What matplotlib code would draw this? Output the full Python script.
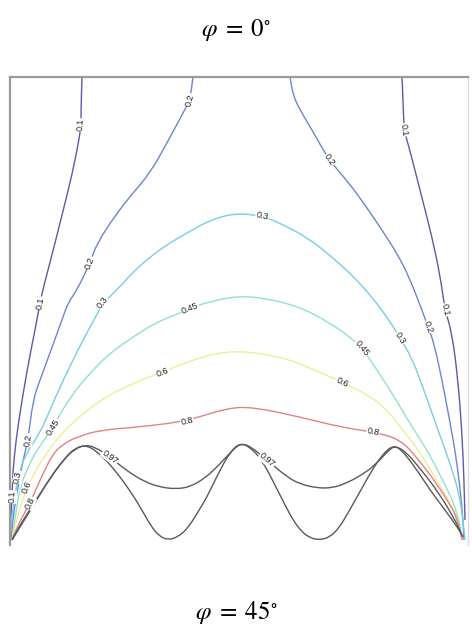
import numpy as np
from matplotlib import pyplot as plt
from matplotlib.path import Path
from matplotlib.patches import PathPatch

# contour traces: (x, y) in picture units, y grows downward
lvl_01_left = [(82, 77), (81, 110), (81, 125), (79, 140), (72, 175), (62, 215), (52, 255),
               (44, 285), (40, 303), (36, 325), (29, 360), (22, 400), (16, 440),
               (13, 470), (12, 497), (11, 515), (10, 540)]
lvl_01_right = [(402, 77), (403, 100), (404, 130), (409, 147), (420, 190), (432, 237),
                (440, 275), (445, 310), (452, 333), (458, 380), (462, 433), (464, 480),
                (465, 520)]
lvl_02_left = [(193, 77), (190, 100), (183, 113), (167, 143), (150, 173), (133, 193),
               (117, 213), (97, 243), (90, 263), (77, 290), (68, 303), (63, 317),
               (50, 353), (40, 380), (33, 400), (28, 440), (22, 465), (18, 487),
               (14, 510), (12, 530), (11, 540)]
lvl_02_right = [(290, 77), (293, 95), (300, 110), (312, 130), (329, 160), (349, 183),
                (365, 205), (382, 230), (398, 255), (409, 277), (422, 310), (428, 327),
                (434, 343), (442, 380), (449, 417), (455, 450), (460, 487), (463, 520),
                (464, 540)]
lvl_03 = [(10, 540), (12, 513), (18, 477), (25, 455), (40, 433), (50, 410), (60, 387),
          (72, 362), (83, 340), (95, 318), (103, 303), (117, 290), (133, 272),
          (150, 257), (168, 244), (187, 233), (210, 220), (236, 213), (262, 216),
          (282, 224), (308, 238), (332, 257), (352, 275), (372, 297), (389, 320),
          (400, 338), (412, 358), (425, 393), (439, 433), (450, 463), (459, 493),
          (463, 520), (465, 540)]
lvl_045 = [(12, 540), (14, 525), (20, 487), (28, 467), (37, 450), (53, 427), (70, 397),
           (90, 373), (110, 353), (133, 337), (155, 323), (180, 313), (190, 308),
           (205, 303), (236, 296), (265, 298), (300, 307), (330, 323), (350, 337),
           (362, 348), (379, 373), (395, 398), (412, 427), (427, 450), (439, 473),
           (450, 495), (455, 507), (460, 525), (462, 540)]
lvl_06 = [(12, 540), (17, 517), (27, 487), (43, 457), (67, 427), (100, 400), (133, 383),
          (163, 372), (200, 357), (236, 350), (282, 357), (310, 368), (342, 382),
          (372, 397), (390, 413), (405, 433), (420, 452), (432, 473), (444, 492),
          (452, 507), (458, 525), (462, 540)]
lvl_08 = [(12, 540), (17, 527), (30, 503), (40, 480), (53, 453), (65, 443), (77, 437),
          (100, 430), (140, 427), (187, 421), (227, 408), (253, 407), (300, 417),
          (340, 427), (373, 432), (400, 439), (419, 460), (439, 487), (450, 505),
          (455, 513), (460, 530), (462, 540)]
lvl_097_upper = [(12, 540), (20, 525), (33, 505), (50, 478), (65, 458), (75, 449),
                 (85, 445), (95, 447), (110, 457), (127, 471), (145, 482), (160, 487),
                 (175, 489), (190, 487), (205, 478), (217, 467), (228, 455), (237, 446),
                 (242, 444), (250, 446), (267, 460), (287, 477), (300, 484), (317, 488),
                 (332, 488), (347, 483), (365, 473), (377, 463), (389, 450), (395, 446),
                 (405, 451), (419, 467), (439, 493), (455, 520), (462, 535)]
lvl_097_lower = [(12, 540), (20, 527), (33, 506), (50, 478), (65, 458), (75, 448),
                 (87, 445), (100, 454), (115, 470), (133, 495), (143, 512), (151, 526),
                 (159, 536), (168, 540), (178, 537), (188, 528), (198, 512), (207, 497),
                 (218, 474), (230, 452), (240, 443), (250, 447), (262, 460), (275, 485),
                 (285, 505), (293, 520), (301, 531), (310, 538), (320, 540), (330, 537),
                 (339, 528), (348, 513), (357, 497), (372, 470), (383, 454), (392, 446),
                 (400, 448), (415, 467), (430, 490), (445, 510), (458, 528), (463, 537)]

# (trace, level text, colour, indices of the points that carry a label)
contours = [
    (lvl_01_left, '0.1', '#5b5bab', [2, 8, 14]),
    (lvl_01_right, '0.1', '#5b5bab', [2, 7]),
    (lvl_02_left, '0.2', '#6f84d2', [1, 8, 15]),
    (lvl_02_right, '0.2', '#6f84d2', [4, 11]),
    (lvl_03, '0.3', '#78cde6', [2, 10, 18, 25]),
    (lvl_045, '0.45', '#92e2c6', [5, 12, 19]),
    (lvl_06, '0.6', '#eeee98', [2, 7, 12]),
    (lvl_08, '0.8', '#e48282', [2, 9, 14]),
    (lvl_097_upper, '0.97', '#5a5a5a', [8, 20]),
    (lvl_097_lower, '0.97', '#5a5a5a', []),
]


def smooth_path(pts):
    # quadratic pieces through the midpoints, read points act as control points
    p = np.array(pts, dtype=float)
    verts = [p[0], (p[0] + p[1]) / 2]
    codes = [Path.MOVETO, Path.LINETO]
    for i in range(1, len(p) - 1):
        verts += [p[i], (p[i] + p[i + 1]) / 2]
        codes += [Path.CURVE3, Path.CURVE3]
    verts.append(p[-1])
    codes.append(Path.LINETO)
    return Path(verts, codes)


plt.rcParams['mathtext.fontset'] = 'stix'

fig = plt.figure(figsize=(4.72, 6.26), dpi=100)
ax = fig.add_axes([10 / 472, 1 - 545 / 626, 458 / 472, 468 / 626])
ax.set_xlim(10, 468)
ax.set_ylim(545, 77)
ax.set_xticks([])
ax.set_yticks([])
for side in ['left', 'top']:
    ax.spines[side].set_color('#9a9a9a')
    ax.spines[side].set_linewidth(1.6)
ax.spines['right'].set_color('#dddddd')
ax.spines['right'].set_linewidth(1.0)
ax.spines['bottom'].set_visible(False)

for pts, txt, col, lab_idx in contours:
    ax.add_patch(PathPatch(smooth_path(pts), fc='none', ec=col, lw=1.0))

fig.canvas.draw()
for pts, txt, col, lab_idx in contours:
    disp = ax.transData.transform(np.array(pts, dtype=float))
    for i in lab_idx:
        a = disp[max(i - 1, 0)]
        b = disp[min(i + 1, len(pts) - 1)]
        ang = np.degrees(np.arctan2(b[1] - a[1], b[0] - a[0]))
        if ang > 90:
            ang -= 180
        if ang < -90:
            ang += 180
        ax.text(pts[i][0], pts[i][1], txt, fontsize=6.5, color='#222222',
                family='Liberation Sans', rotation=ang, rotation_mode='anchor',
                ha='center', va='center',
                bbox=dict(boxstyle='square,pad=0.05', fc='white', ec='none'))

fig.text(0.5, 1 - 30 / 626, r'$\varphi\;=\;0^{\circ}$', ha='center', va='center', fontsize=18)
fig.text(0.5, 1 - 612 / 626, r'$\varphi\;=\;45^{\circ}$', ha='center', va='center', fontsize=18)

fig.savefig('out.png', dpi=100)
